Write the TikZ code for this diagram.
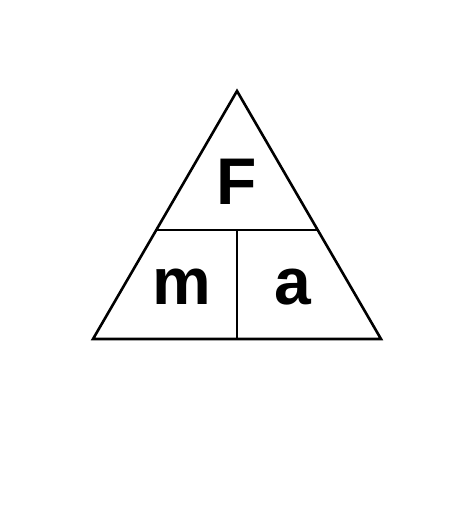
\documentclass[tikz,border=0pt]{standalone}
\usepackage{fontspec}
\setmainfont{Liberation Sans}
\usetikzlibrary{calc}
\begin{document}
\begin{tikzpicture}[x=1pt,y=-1pt,inner sep=0pt,outer sep=0pt,line width=2.6pt,line join=miter,
letter/.style={anchor=base,font=\fontsize{66}{66}\selectfont\bfseries}]

\useasboundingbox (0,0) rectangle (474,505);

\coordinate (top) at (237,91);
\coordinate (left) at (93,339);
\coordinate (right) at (381,339);
\coordinate (midL) at ($(top)!0.56!(left)$);
\coordinate (midR) at ($(top)!0.56!(right)$);
\coordinate (midC) at ($(midL)!0.5!(midR)$);
\coordinate (bot) at (237,339);

\draw (top) -- (left) -- (right) -- cycle;
\draw (midL) -- (midR);
\draw (midC) -- (bot);

\draw (237,204) node[letter] (F) {F};
\draw (182,304) node[letter] (m) {m};
\draw (293,304) node[letter] (a) {a};
\end{tikzpicture}
\end{document}
